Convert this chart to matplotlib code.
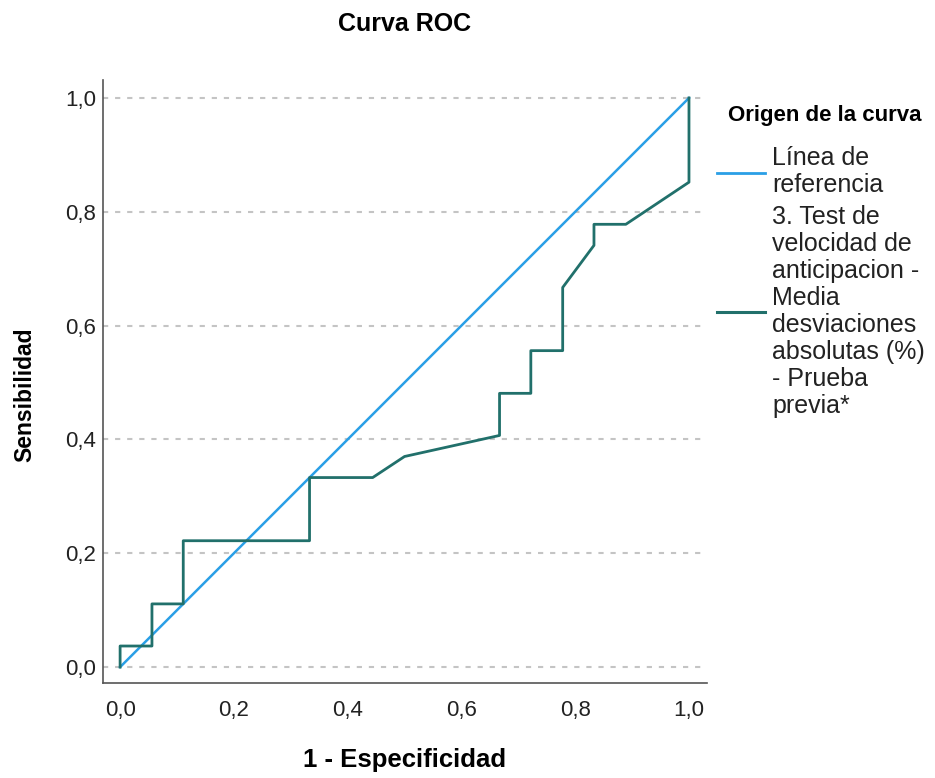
import matplotlib
matplotlib.use("Agg")
import matplotlib.pyplot as plt
from matplotlib.lines import Line2D
from matplotlib.ticker import FuncFormatter

plt.rcParams['font.family'] = ['Liberation Sans', 'DejaVu Sans']

# ROC points (1 - especificidad, sensibilidad)
fpr = [0.0, 0.0, 0.056, 0.056, 0.111, 0.111, 0.333, 0.333, 0.444, 0.5,
       0.667, 0.667, 0.722, 0.722, 0.778, 0.778, 0.833, 0.833, 0.889, 1.0, 1.0]
tpr = [0.0, 0.037, 0.037, 0.111, 0.111, 0.222, 0.222, 0.333, 0.333, 0.370,
       0.407, 0.481, 0.481, 0.556, 0.556, 0.667, 0.741, 0.778, 0.778, 0.852, 1.0]
ref_x = [0.0, 1.0]
ref_y = [0.0, 1.0]
ticks = [0.0, 0.2, 0.4, 0.6, 0.8, 1.0]

ref_label = "Línea de\nreferencia"
curve_label = ("3. Test de\nvelocidad de\nanticipacion -\nMedia\ndesviaciones\n"
               "absolutas (%)\n- Prueba\nprevia*")

blue = "#2a9fe6"
teal = "#21706b"

fig = plt.figure(figsize=(9.35, 7.78), dpi=100)
ax = fig.add_axes([0.1102, 0.1221, 0.6459, 0.7751])

ax.plot(ref_x, ref_y, color=blue, lw=1.8, zorder=3)
ax.plot(fpr, tpr, color=teal, lw=2.0, zorder=4)

ax.set_xlim(-0.03, 1.0316)
ax.set_ylim(-0.028, 1.0316)
ax.set_xticks(ticks)
ax.set_yticks(ticks)
fmt = FuncFormatter(lambda v, p: f"{v:.1f}".replace(".", ","))
ax.xaxis.set_major_formatter(fmt)
ax.yaxis.set_major_formatter(fmt)
ax.tick_params(axis='x', length=0, pad=12, labelsize=16, labelcolor="#222222")
ax.tick_params(axis='y', length=0, pad=5, labelsize=16, labelcolor="#222222")

ax.grid(axis='y', color="#c4c4c4", lw=1.5, linestyle=(0, (2.5, 3.3)))
ax.grid(axis='x', visible=False)
for s in ['top', 'right']:
    ax.spines[s].set_visible(False)
for s in ['left', 'bottom']:
    ax.spines[s].set_color("#555555")
    ax.spines[s].set_linewidth(1.2)

fig.text(0.433, 0.969, "Curva ROC", ha='center', va='center',
         fontsize=18, fontweight='bold')
fig.text(0.433, 0.023, "1 - Especificidad", ha='center', va='center',
         fontsize=18.5, fontweight='bold')
fig.text(0.027, 0.492, "Sensibilidad", ha='center', va='center',
         rotation=90, fontsize=16.5, fontweight='bold')

# legend title and entries
fig.text(0.7786, 0.852, "Origen de la curva", ha='left', va='center',
         fontsize=16, fontweight='bold')
handles = [Line2D([0], [0], color=blue, lw=2.0),
           Line2D([0], [0], color=teal, lw=2.2)]
leg = fig.legend(handles, [ref_label, curve_label], loc='upper left',
                 bbox_to_anchor=(0.7668, 0.812), frameon=False,
                 fontsize=18, handlelength=1.92, handletextpad=0.28,
                 borderpad=0, borderaxespad=0, labelspacing=0.3)
for t in leg.get_texts():
    t.set_color("#222222")
    t.set_linespacing(1.16)

fig.savefig("out.png", dpi=100)
